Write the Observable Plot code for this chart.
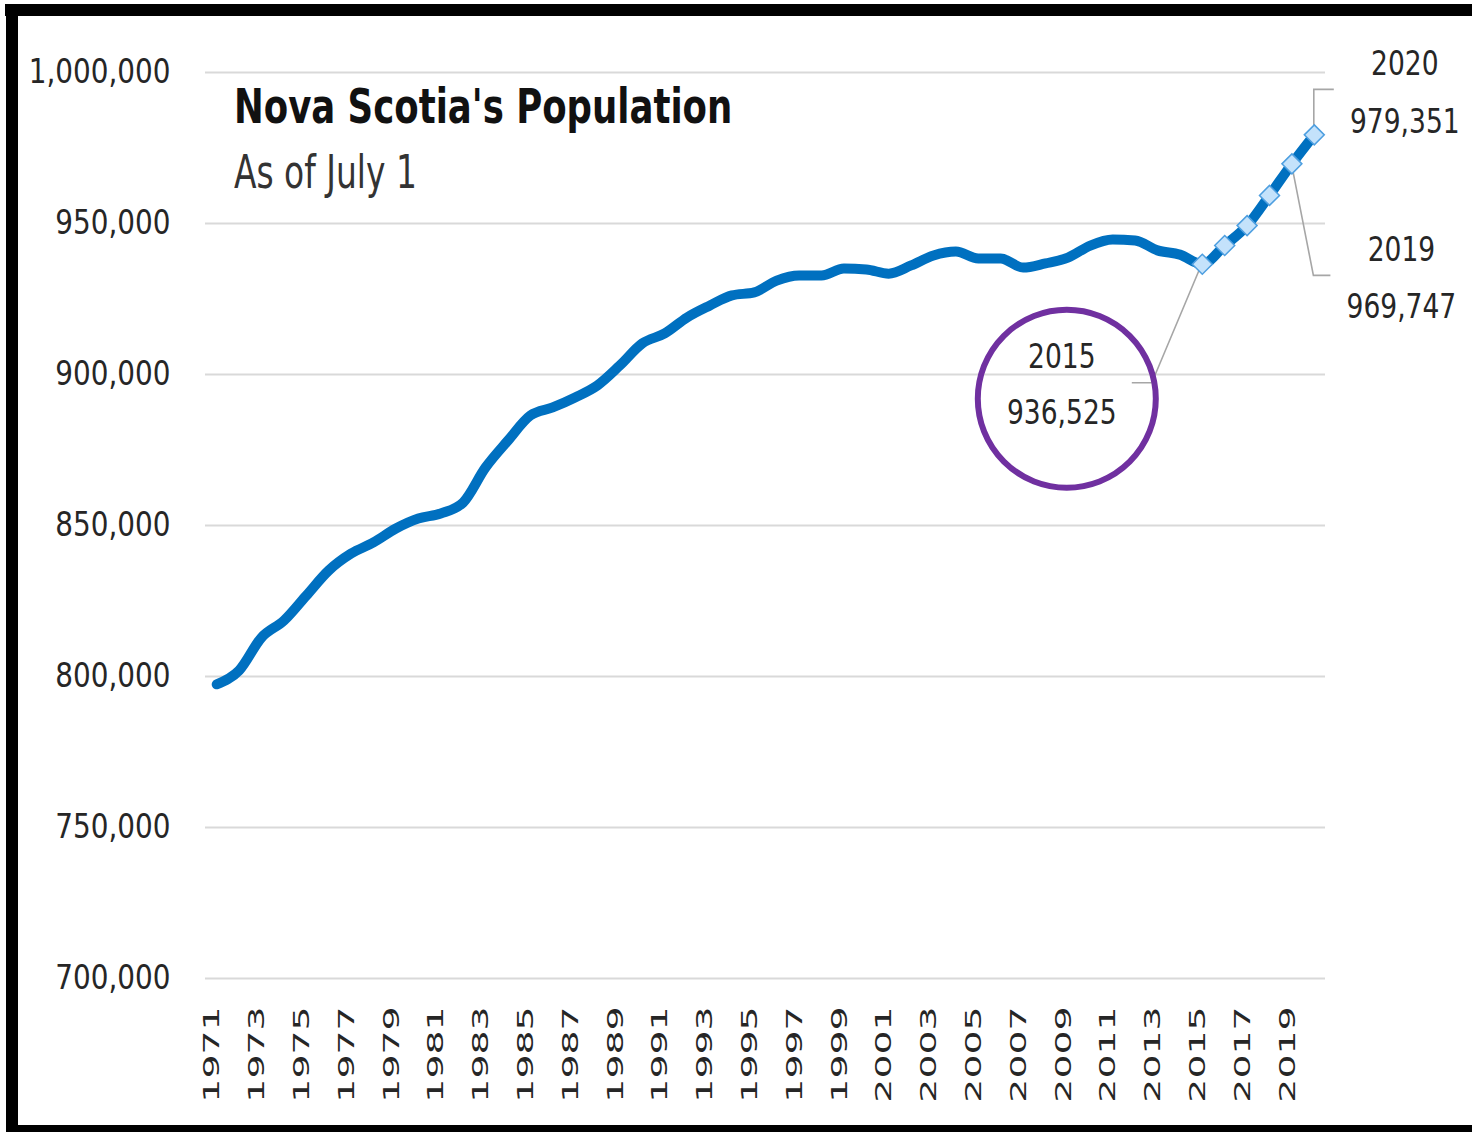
<!DOCTYPE html>
<html>
<head>
<meta charset="utf-8">
<script src="https://cdn.jsdelivr.net/npm/d3@7"></script>
<script src="https://cdn.jsdelivr.net/npm/@observablehq/plot@0.6"></script>
<style>
  body { margin: 0; background: #fff; }
  #wrap { position: relative; width: 1472px; height: 1132px; overflow: hidden; background: #fff; }
  #wrap svg { position: absolute; left: 0; top: 0; }
  .narrow { font-family: "DejaVu Sans", sans-serif; transform-origin: 0 0; }
  #title { position: absolute; left: 234px; top: 82px; font-weight: bold; font-size: 48px; color: #111; line-height: 1; white-space: nowrap; transform: scaleX(0.74); }
  #subtitle { position: absolute; left: 234px; top: 148px; font-size: 47px; color: #333; line-height: 1; white-space: nowrap; transform: scaleX(0.70); }
  .bar { position: absolute; background: #000; }
</style>
</head>
<body>
<div id="wrap">
  <div id="title" class="narrow">Nova Scotia's Population</div>
  <div id="subtitle" class="narrow">As of July 1</div>
</div>
<script>
// ---- data ----
const years = [1971,1972,1973,1974,1975,1976,1977,1978,1979,1980,
               1981,1982,1983,1984,1985,1986,1987,1988,1989,1990,
               1991,1992,1993,1994,1995,1996,1997,1998,1999,2000,
               2001,2002,2003,2004,2005,2006,2007,2008,2009,2010,
               2011,2012,2013,2014,2015,2016,2017,2018,2019,2020];
const population = [797400,802000,812900,818500,826800,835100,840700,844400,849000,852300,
                    854000,857600,869200,878100,886400,889100,892400,896400,903000,910300,
                    913600,918900,922800,926200,927200,931100,932800,932800,935100,934800,
                    933400,936100,939400,940700,938400,938400,935400,936800,938700,942700,
                    944700,944400,941100,939700,936525,942700,949300,959300,969747,979351];
const markerYears = [2015,2016,2017,2018,2019,2020];
const yTicks = [700000,750000,800000,850000,900000,950000,1000000];
const xTickYears = [1971,1973,1975,1977,1979,1981,1983,1985,1987,1989,1991,1993,1995,1997,1999,
                    2001,2003,2005,2007,2009,2011,2013,2015,2017,2019];
const calloutYears = [2015,2019,2020];
const calloutValueLabels = ["936,525","969,747","979,351"];

const data = years.map((year, i) => ({year, value: population[i]}));
const markers = data.filter(d => markerYears.includes(d.year));

const baseFont = '"DejaVu Sans", Verdana, sans-serif';

const plot = Plot.plot({
  width: 1472,
  height: 1132,
  marginTop: 72,
  marginBottom: 154,
  marginLeft: 205,
  marginRight: 147,
  style: {background: "transparent", fontFamily: baseFont, color: "#262626", overflow: "visible"},
  x: {type: "linear", domain: [years[0] - 0.5, years[years.length - 1] + 0.5], label: null,
      ticks: xTickYears, tickRotate: -90, tickSize: 0, tickPadding: 28, tickFormat: d => String(d)},
  y: {domain: [700000, 1000000], label: null, ticks: yTicks, tickSize: 0, tickPadding: 35,
      tickFormat: d3.format(",")},
  marks: [
    Plot.ruleY(yTicks, {stroke: "#d9d9d9", strokeWidth: 2}),
    Plot.line(data, {x: "year", y: "value", stroke: "#0070c0", strokeWidth: 10,
                     curve: "monotone-x", strokeLinejoin: "round", strokeLinecap: "round"}),
    Plot.dot(markers, {x: "year", y: "value", symbol: "diamond2", r: 9,
                       fill: "#c4e2fb", stroke: "#4e9fe0", strokeWidth: 1.5})
  ]
});

document.getElementById("wrap").prepend(plot);
const svg = d3.select(plot);

// append a local transform to text elements (keeps their anchor position)
function addTransform(node, extra) {
  let t = node.getAttribute("transform");
  if (!t) {
    const x = +node.getAttribute("x") || 0, y = +node.getAttribute("y") || 0;
    node.removeAttribute("x"); node.removeAttribute("y");
    t = `translate(${x},${y})`;
  }
  node.setAttribute("transform", t + " " + extra);
}

svg.selectAll('g[aria-label="x-axis tick label"] text')
  .style("font-family", baseFont).style("font-size", "21px").style("fill", "#262626")
  .each(function() { addTransform(this, "translate(0,-4) scale(1.8,1)"); });
svg.selectAll('g[aria-label="y-axis tick label"] text')
  .style("font-family", baseFont).style("font-size", "34px").style("fill", "#262626")
  .each(function() { addTransform(this, "scale(0.82,1)"); });

// ---- callouts ----
const sx = plot.scale("x"), sy = plot.scale("y");
const ann = svg.append("g").attr("class", "annotations");
const cfg = {
  2015: {path: [[0,0],[-50,119],[-70,119]], tx: -140, ty1: 93, ty2: 149, circle: [-135, 135, 89]},
  2019: {path: [[0,0],[22,112],[39,112]], tx: 110, ty1: 86, ty2: 143},
  2020: {path: [[0,0],[0,-45],[20,-45]], tx: 91, ty1: -71, ty2: -13}
};
calloutYears.forEach((yr, i) => {
  const d = data.find(e => e.year === yr);
  const px = sx.apply(d.year), py = sy.apply(d.value);
  const c = cfg[yr];
  ann.insert("path", ":first-child")
    .attr("d", d3.line()(c.path.map(([dx, dy]) => [px + dx, py + dy])))
    .attr("fill", "none").attr("stroke", "#a6a6a6").attr("stroke-width", 1.6);
  [[String(yr), c.ty1], [calloutValueLabels[i], c.ty2]].forEach(([txt, dy]) => {
    ann.append("text")
      .attr("transform", `translate(${px + c.tx},${py + dy}) scale(0.78,1)`)
      .attr("text-anchor", "middle").attr("dominant-baseline", "central")
      .style("font-family", baseFont).style("font-size", "34px").style("fill", "#262626")
      .text(txt);
  });
  if (c.circle) {
    ann.append("circle")
      .attr("cx", px + c.circle[0]).attr("cy", py + c.circle[1]).attr("r", c.circle[2])
      .attr("fill", "none").attr("stroke", "#7030a0").attr("stroke-width", 6);
  }
});
// markers above leader lines
svg.node().appendChild(svg.select('g[aria-label="dot"]').node());

// ---- frame ----
const wrap = document.getElementById("wrap");
[[5,4,1467,12],[6,4,12,1128],[6,1125,1466,7]].forEach(([l,t,w,h]) => {
  const b = document.createElement("div");
  b.className = "bar";
  Object.assign(b.style, {left: l+"px", top: t+"px", width: w+"px", height: h+"px"});
  wrap.appendChild(b);
});
</script>
</body>
</html>
